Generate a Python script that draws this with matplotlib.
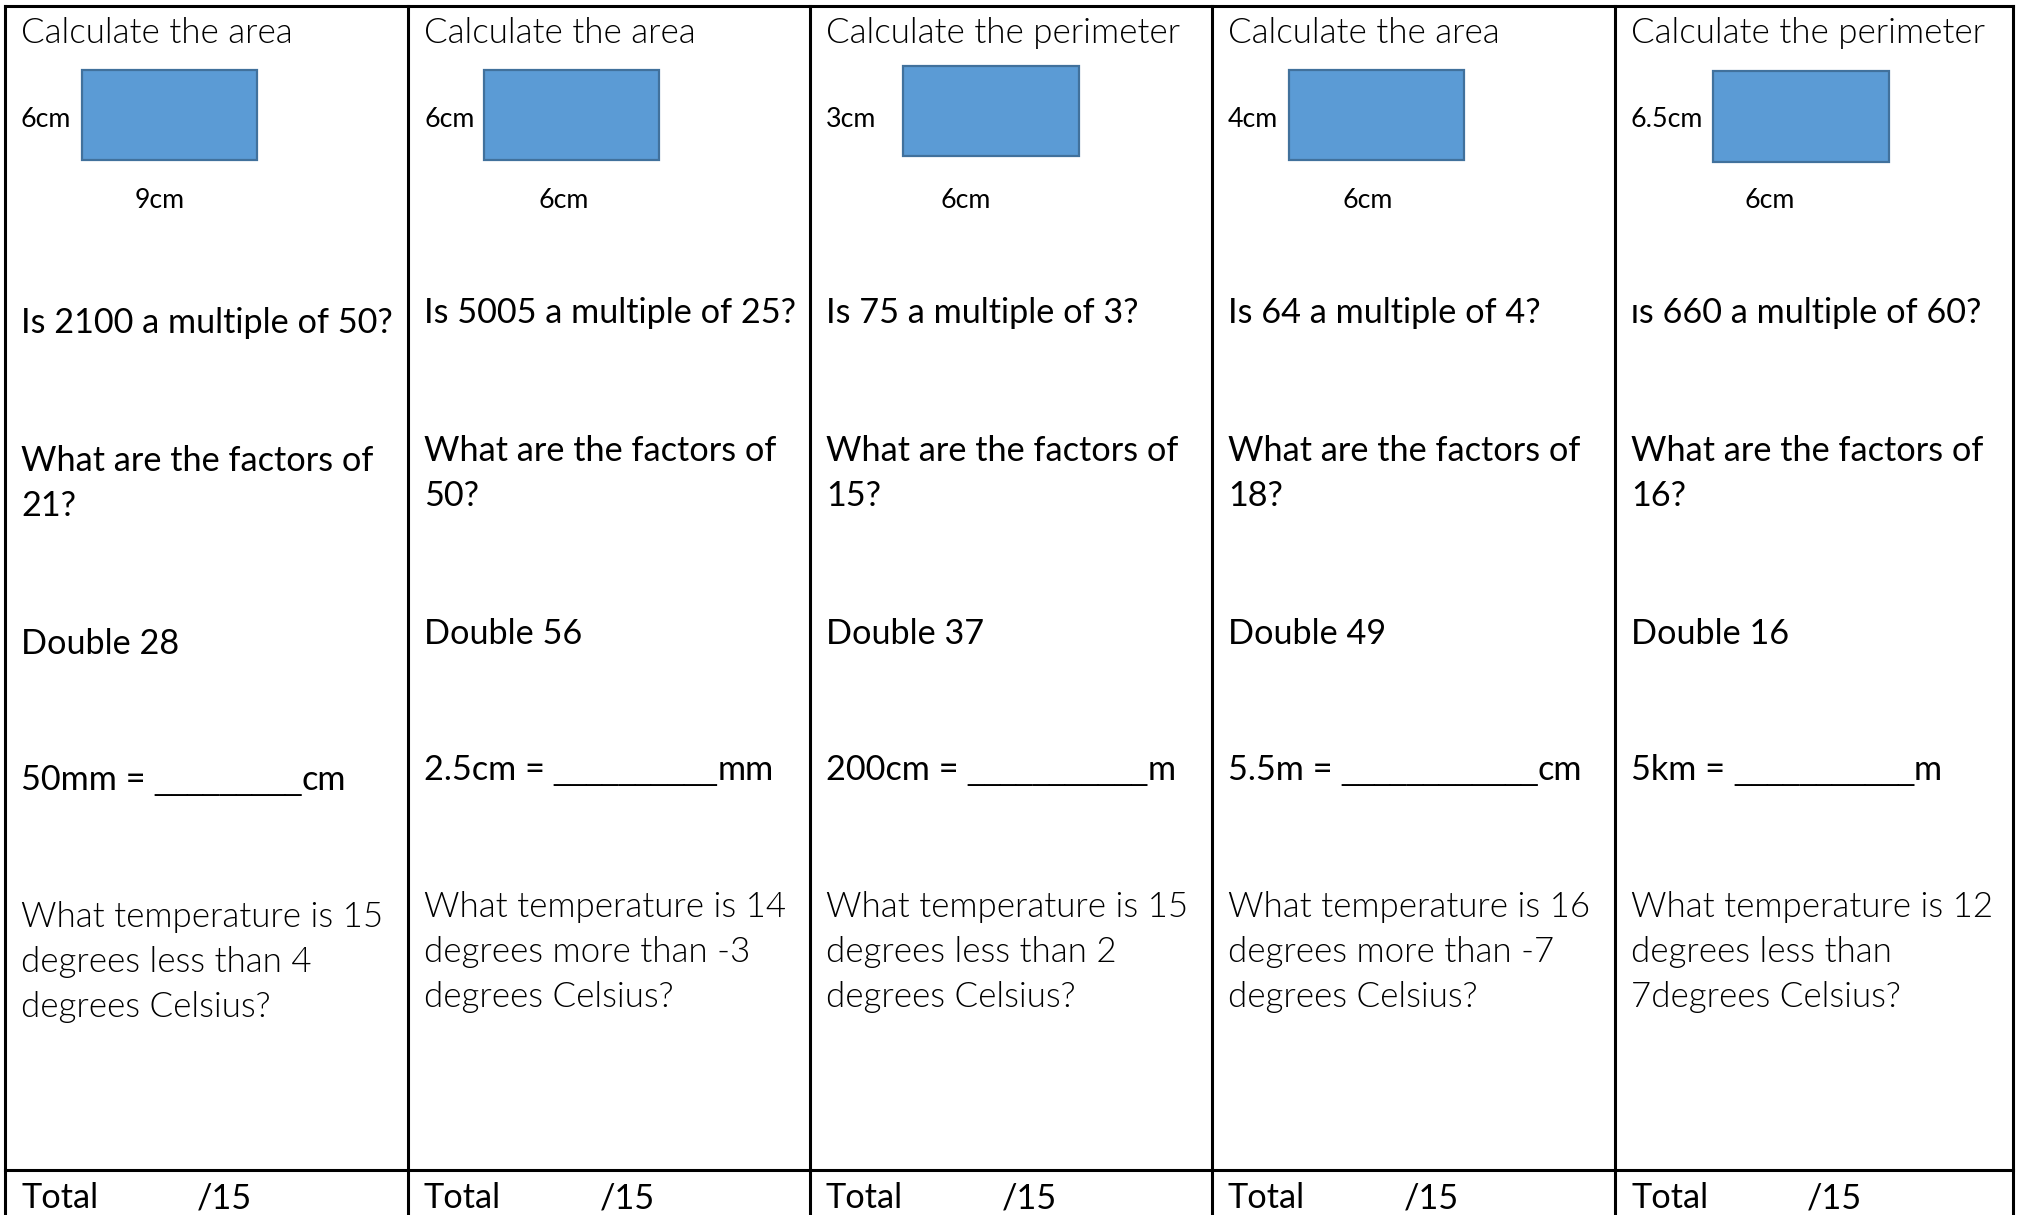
import matplotlib
matplotlib.use('Agg')
import matplotlib.pyplot as plt
from matplotlib.patches import Rectangle

FONT = ['Lato', 'DejaVu Sans']
LINE_FONT = ['Liberation Sans', 'DejaVu Sans']   # joined underscores

# worksheet text, one entry per column
headings = ['Calculate the area', 'Calculate the area', 'Calculate the perimeter',
            'Calculate the area', 'Calculate the perimeter']
side_labels = ['6cm', '6cm', '3cm', '4cm', '6.5cm']
base_labels = ['9cm', '6cm', '6cm', '6cm', '6cm']
multiples = ['Is 2100 a multiple of 50?', 'Is 5005 a multiple of 25?',
             'Is 75 a multiple of 3?', 'Is 64 a multiple of 4?',
             'ɪs 660 a multiple of 60?']
factors = [['What are the factors of', '21?'], ['What are the factors of', '50?'],
           ['What are the factors of', '15?'], ['What are the factors of', '18?'],
           ['What are the factors of', '16?']]
doubles = ['Double 28', 'Double 56', 'Double 37', 'Double 49', 'Double 16']
conversions = ['50mm = _________cm', '2.5cm = __________mm', '200cm = ___________m',
               '5.5m = ____________cm', '5km = ___________m']
temperatures = [['What temperature is 15', 'degrees less than 4', 'degrees Celsius?'],
                ['What temperature is 14', 'degrees more than -3', 'degrees Celsius?'],
                ['What temperature is 15', 'degrees less than 2', 'degrees Celsius?'],
                ['What temperature is 16', 'degrees more than -7', 'degrees Celsius?'],
                ['What temperature is 12', 'degrees less than', '7degrees Celsius?']]
total_label = 'Total'
total_marks = '/15'

# layout (pixels)
W, H = 2019, 1215
col_edges = [5, 408, 810, 1212, 1615, 2013]
rects = [(82, 70, 175, 90), (484, 70, 175, 90), (903, 66, 176, 90),
         (1289, 70, 175, 90), (1713, 71, 176, 91)]
drop = [10, 0, 0, 0, 0]   # first column sits a bit lower
pad = 16
lead = 45

fig = plt.figure(figsize=(W / 100, H / 100), dpi=100)
ax = fig.add_axes([0, 0, 1, 1])
ax.set_xlim(0, W)
ax.set_ylim(H, 0)
ax.axis('off')
renderer = fig.canvas.get_renderer()


def width_of(s, fs, weight='normal', family=FONT):
    t = ax.text(0, 0, s, fontsize=fs, fontweight=weight, family=family)
    w = t.get_window_extent(renderer).width
    t.remove()
    return w


def fit_size(s, width, weight):
    return 20 * width / width_of(s, 20, weight)


light_fs = fit_size('Calculate the perimeter', 354, 300)
reg_fs = fit_size('What are the factors of', 353, 'normal')
small_fs = fit_size('6.5cm', 72, 'normal')
line_fs = reg_fs * 0.86


def put(x, y, s, fs, weight='normal', family=FONT):
    ax.text(x, y, s, fontsize=fs, fontweight=weight, family=family,
            va='baseline', ha='left', color='black')


def put_blank(x, y, s):
    # prefix, run of underscores, suffix
    a = s.index('_')
    b = s.rindex('_') + 1
    pieces = [(s[:a], reg_fs, FONT), (s[a:b], line_fs, LINE_FONT), (s[b:], reg_fs, FONT)]
    for txt, fs, fam in pieces:
        put(x, y, txt, fs, family=fam)
        x += width_of(txt.replace(' ', '\u00a0'), fs, family=fam)


# grid lines
lw = 2.2
ax.plot([col_edges[0], col_edges[-1]], [6, 6], color='black', lw=lw, clip_on=False)
ax.plot([col_edges[0], col_edges[-1]], [1170, 1170], color='black', lw=lw, clip_on=False)
for xe in col_edges:
    ax.plot([xe, xe], [6, H], color='black', lw=lw, clip_on=False)

for i in range(5):
    x0 = col_edges[i] + pad
    d = drop[i]
    put(x0, 43, headings[i], light_fs, 300)
    rx, ry, rw, rh = rects[i]
    ax.add_patch(Rectangle((rx, ry), rw, rh, facecolor='#5B9BD5',
                           edgecolor='#41719C', lw=1.6))
    put(x0, 127, side_labels[i], small_fs)
    put(col_edges[i] + 130, 208, base_labels[i], small_fs)
    put(x0, 323 + d, multiples[i], reg_fs)
    for k, line in enumerate(factors[i]):
        put(x0, 461 + d + k * lead, line, reg_fs)
    put(x0, 644 + d, doubles[i], reg_fs)
    put_blank(x0, 780 + d, conversions[i])
    for k, line in enumerate(temperatures[i]):
        put(x0, 917 + d + k * lead, line, light_fs, 300)
    put(x0, 1208, total_label, reg_fs)
    put(col_edges[i] + 192, 1208, total_marks, reg_fs)

fig.savefig('out.png', dpi=100)
